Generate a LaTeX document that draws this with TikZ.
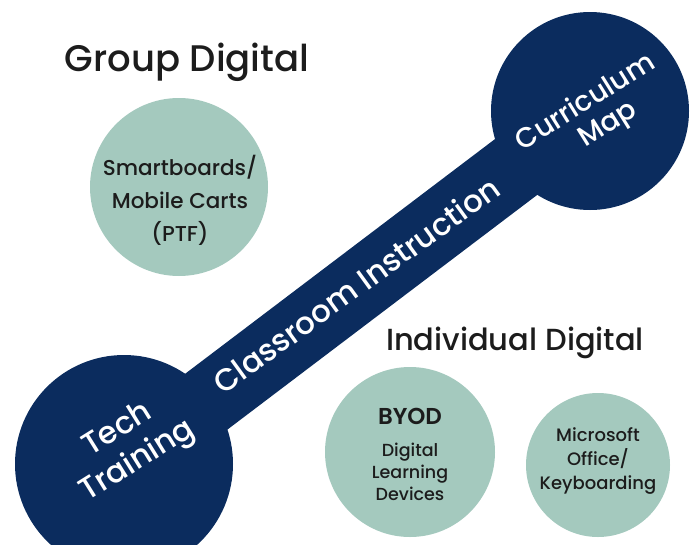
\documentclass[tikz,border=0pt]{standalone}
\usepackage{fontspec}
\setmainfont{Poppins Medium}[BoldFont=Poppins SemiBold]
\usetikzlibrary{positioning,backgrounds}
\definecolor{navyblue}{HTML}{0B2C5E}
\definecolor{sagegreen}{HTML}{A4C9BE}
\definecolor{inkgray}{HTML}{1C1C1C}

\begin{document}
\begin{tikzpicture}[x=1pt,y=-1pt,
      hub/.style={circle, fill=navyblue, inner sep=0pt},
      pod/.style={circle, fill=sagegreen, inner sep=0pt},
      podtext/.style={text=inkgray, align=center},
      heading/.style={text=inkgray, inner sep=0pt},
      hubtext/.style={text=white, align=center, rotate=32, inner sep=0pt},
      bar/.style={line width=70pt, draw=navyblue}]

\useasboundingbox (0,0) rectangle (696,544);

% the two hubs and the bar between them
\node[hub, minimum size=218pt] (tech) at (124,464) {};
\node[hub, minimum size=198pt] (curric) at (590,111) {};
\begin{pgfonlayer}{background}
\draw[bar] (tech.center) -- (curric.center);
\end{pgfonlayer}
\node[hubtext, font=\fontsize{31}{37}\selectfont] (techtxt) at (128,446) {Tech\\Training};
\node[hubtext, font=\fontsize{28}{30}\selectfont] (curtxt) at (594,116) {Curriculum\\\hspace*{14pt}Map};
\node[hubtext, rotate=4, font=\fontsize{31}{34}\selectfont] (classtxt) at (356,285) {Classroom Instruction};

% group side
\node[heading, font=\fontsize{37}{40}\selectfont] (grouphead) at (187,62) {Group Digital};
\node[pod, minimum size=178pt] (smart) at (179,187) {};
\node[podtext, font=\fontsize{21.5}{33}\selectfont] (smarttxt) at (180,200) {Smartboards/\\Mobile Carts\\(PTF)};

% individual side
\node[heading, font=\fontsize{30.5}{34}\selectfont] (indivhead) at (515,343) {Individual Digital};
\node[pod, minimum size=170pt] (byod) at (410,452) {};
\node[podtext, font=\fontsize{23}{26}\selectfont\bfseries] (byodtxt) at (410,416) {BYOD};
\node[podtext, font=\fontsize{17.5}{22}\selectfont, below=12pt of byodtxt] (devtxt) {Digital\\Learning\\Devices};
\node[pod, minimum size=144pt] (msoft) at (598,465) {};
\node[podtext, font=\fontsize{18}{24}\selectfont] (msofttxt) at (598,461) {Microsoft\\Office/\\Keyboarding};

\end{tikzpicture}
\end{document}
